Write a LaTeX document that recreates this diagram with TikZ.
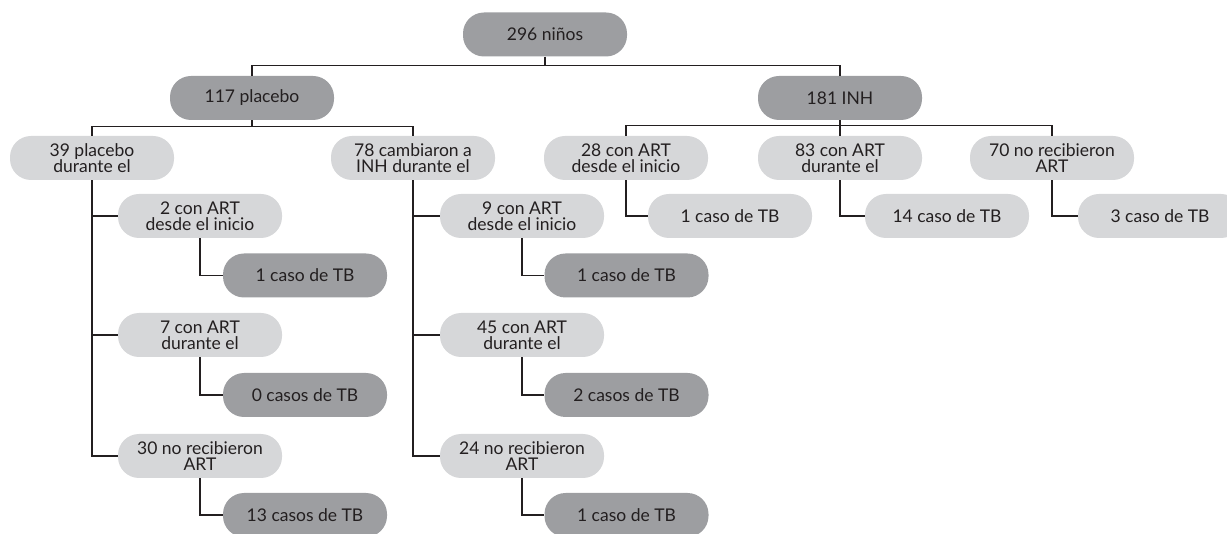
\documentclass[tikz,border=0pt]{standalone}
\usepackage{fontspec}
\setmainfont{Lato}
\definecolor{darkbox}{RGB}{157,158,161}
\definecolor{lightbox}{RGB}{214,215,217}
\definecolor{ink}{RGB}{35,31,32}
\begin{document}
\begin{tikzpicture}[x=1pt,y=-1pt,
  box/.style={rectangle, rounded corners=21pt, minimum width=164pt, minimum height=44pt,
    inner sep=0pt, align=center, text=ink, font=\fontsize{17.5}{16}\selectfont},
  dbox/.style={box, fill=darkbox},
  lbox/.style={box, fill=lightbox},
  conn/.style={draw=ink, line width=1.3pt}]
\clip (0,0) rectangle (1227,534);
% top levels
\node[dbox] (root) at (545,34.5) {296 niños};
\node[dbox] (p117) at (252,98) {117 placebo};
\node[dbox] (i181) at (840,98) {181 INH};
\node[lbox] (p39) at (92,158) {39 placebo\\durante el};
\node[lbox] (p78) at (413,158) {78 cambiaron a\\INH durante el};
\node[lbox] (i28) at (626,158) {28 con ART\\desde el inicio};
\node[lbox] (i83) at (840,158) {83 con ART\\durante el};
\node[lbox] (i70) at (1052,158) {70 no recibieron\\ART};
\node[lbox] (i28c) at (730,216) {1 caso de TB};
\node[lbox] (i83c) at (947,216) {14 caso de TB};
\node[lbox] (i70c) at (1160,216) {3 caso de TB};
% left column
\node[lbox] (a1) at (200,216) {2 con ART\\desde el inicio};
\node[dbox] (a1c) at (305,275.5) {1 caso de TB};
\node[lbox] (a2) at (200,335) {7 con ART\\durante el};
\node[dbox] (a2c) at (305,395) {0 casos de TB};
\node[lbox] (a3) at (200,456) {30 no recibieron\\ART};
\node[dbox] (a3c) at (305,515) {13 casos de TB};
% middle column
\node[lbox] (b1) at (522,216) {9 con ART\\desde el inicio};
\node[dbox] (b1c) at (626.5,275.5) {1 caso de TB};
\node[lbox] (b2) at (522,335) {45 con ART\\durante el};
\node[dbox] (b2c) at (626.5,395) {2 casos de TB};
\node[lbox] (b3) at (522,456) {24 no recibieron\\ART};
\node[dbox] (b3c) at (626.5,515) {1 caso de TB};
% connectors
\draw[conn] (root.south) -- ++(0,8.5) coordinate (rb) -| (p117.north);
\draw[conn] (rb) -| (i181.north);
\draw[conn] (p117.south) -- ++(0,6) coordinate (pb) -| (p39.north);
\draw[conn] (pb) -| (p78.north);
\draw[conn] (i181.south) -- ++(0,5) coordinate (ib) -| (i28.north);
\draw[conn] (ib) -| (i70.north);
\draw[conn] (i181.south) -- (i83.north);
\draw[conn] (p39.south) |- (a1.west);
\draw[conn] (p39.south) |- (a2.west);
\draw[conn] (p39.south) |- (a3.west);
\draw[conn] (p78.south) |- (b1.west);
\draw[conn] (p78.south) |- (b2.west);
\draw[conn] (p78.south) |- (b3.west);
\draw[conn] (a1.south) |- (a1c.west);
\draw[conn] (a2.south) |- (a2c.west);
\draw[conn] (a3.south) |- (a3c.west);
\draw[conn] (b1.south) |- (b1c.west);
\draw[conn] (b2.south) |- (b2c.west);
\draw[conn] (b3.south) |- (b3c.west);
\draw[conn] (i28.south) |- (i28c.west);
\draw[conn] (i83.south) |- (i83c.west);
\draw[conn] (i70.south) |- (i70c.west);
\end{tikzpicture}
\end{document}
